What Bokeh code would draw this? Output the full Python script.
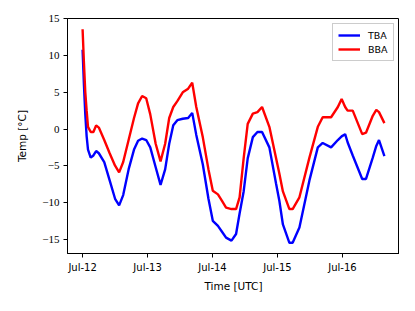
import datetime as dt
from bokeh.plotting import figure
from bokeh.models import Range1d, FixedTicker, DatetimeTickFormatter, Legend, LegendItem
from bokeh.embed import file_html
from bokeh.resources import INLINE

# ---- data (hours since Jul-12 00:00 UTC) ----
hours = [0, 0.5, 1, 1.5, 2, 3, 4, 5, 6, 8, 10, 12, 13.5, 15, 17, 19, 20.5, 22, 23.5,
         25, 27, 28.8, 30.5, 32, 33.5, 35, 37, 39, 40.5, 42, 44.4, 46.5, 48.1, 50,
         51.5, 53, 55, 56.7, 58, 59.5, 61, 62.9, 64.6, 66.3, 69, 71.5, 72.7, 74,
         76.4, 77.6, 80.1, 83.8, 86.9, 88.7, 91.8, 94.3, 95.7, 97, 97.9, 99.8,
         103.3, 104.7, 107.2, 108.5, 109.5, 111.5]
tba = [10.8, 6.0, 2.0, -1.0, -2.8, -3.9, -3.6, -3.0, -3.3, -4.5, -7.0, -9.5, -10.4,
       -9.0, -5.5, -2.8, -1.6, -1.3, -1.5, -2.5, -5.2, -7.6, -5.5, -2.0, 0.5, 1.2,
       1.4, 1.5, 2.2, -0.8, -4.8, -9.5, -12.5, -13.2, -14.0, -14.8, -15.2, -14.3,
       -11.5, -8.5, -4.0, -1.1, -0.4, -0.4, -2.5, -7.5, -9.8, -13.0, -15.5, -15.5,
       -13.4, -7.0, -2.5, -1.9, -2.5, -1.5, -1.0, -0.7, -1.8, -3.6, -6.8, -6.8,
       -3.9, -2.3, -1.5, -3.7]
bba = [13.6, 9.0, 5.0, 2.5, 0.3, -0.4, -0.4, 0.5, 0.2, -1.5, -3.3, -5.0, -5.9,
       -4.5, -1.5, 1.5, 3.5, 4.5, 4.2, 2.0, -2.0, -4.4, -2.0, 1.5, 3.0, 3.8, 5.0,
       5.5, 6.3, 3.0, -1.1, -5.5, -8.4, -8.9, -9.8, -10.7, -10.9, -10.9, -9.3,
       -4.0, 0.7, 2.1, 2.3, 3.0, 0.3, -4.0, -6.1, -8.5, -10.9, -10.9, -9.3, -3.9,
       0.3, 1.6, 1.6, 3.0, 4.1, 3.0, 2.5, 2.5, -0.7, -0.5, 1.8, 2.6, 2.3, 0.8]
series_names = ["TBA", "BBA"]
series_colors = ["blue", "red"]
y_ticks = [-15, -10, -5, 0, 5, 10, 15]
day_ticks = ["2019-07-12", "2019-07-13", "2019-07-14", "2019-07-15", "2019-07-16"]

start = dt.datetime(2019, 7, 12)
times = [start + dt.timedelta(hours=h) for h in hours]

def ms(d):
    return (d - dt.datetime(1970, 1, 1)).total_seconds() * 1000.0

t0, t1 = ms(times[0]), ms(times[-1])
pad = 0.05 * (t1 - t0)
allv = tba + bba
vmin, vmax = min(allv), max(allv)
vpad = 0.05 * (vmax - vmin)

p = figure(width=399, height=295, x_axis_type="datetime",
           output_backend="svg", toolbar_location=None,
           x_range=Range1d(t0 - pad, t1 + pad),
           y_range=Range1d(vmin - vpad, vmax + vpad),
           min_border_left=67, min_border_right=0, min_border_top=18,
           min_border_bottom=42)
p.background_fill_color = "white"
p.border_fill_color = "white"
p.outline_line_color = "black"
p.outline_line_width = 1
p.xgrid.visible = False
p.ygrid.visible = False

r1 = p.line(times, tba, line_color=series_colors[0], line_width=2.4)
r2 = p.line(times, bba, line_color=series_colors[1], line_width=2.4)

tick_ms = [ms(dt.datetime.strptime(d, "%Y-%m-%d")) for d in day_ticks]
p.xaxis.ticker = FixedTicker(ticks=tick_ms)
p.xaxis.formatter = DatetimeTickFormatter(days="%b-%d", months="%b-%d", hours="%b-%d")
p.yaxis.ticker = FixedTicker(ticks=y_ticks)
p.yaxis.major_label_overrides = {v: (str(v).replace("-", "\u2212")) for v in y_ticks}

for ax in (p.xaxis[0], p.yaxis[0]):
    ax.axis_line_color = "black"
    ax.major_tick_line_color = "black"
    ax.major_tick_out = 4
    ax.major_tick_in = 0
    ax.minor_tick_line_color = None
    ax.major_label_text_color = "black"
    ax.major_label_text_font_size = "10px"
    ax.axis_label_text_font_size = "10.5px"
    ax.axis_label_text_font_style = "normal"
    ax.axis_label_text_font = "DejaVu Sans"
    ax.axis_label_text_color = "black"
    ax.major_label_standoff = 4

p.xaxis.major_label_text_font = "DejaVu Sans"
p.yaxis.major_label_text_font = "Liberation Serif"
p.yaxis.major_label_text_font_size = "11px"
p.xaxis.axis_label = "Time [UTC]"
p.yaxis.axis_label = "Temp [\u00b0C]"
p.xaxis.axis_label_standoff = 4
p.yaxis.axis_label_standoff = 11

legend = Legend(items=[LegendItem(label=series_names[0], renderers=[r1]),
                       LegendItem(label=series_names[1], renderers=[r2])],
                location="top_right")
legend.label_text_font = "DejaVu Sans"
legend.label_text_font_size = "9.5px"
legend.label_text_color = "black"
legend.border_line_color = "#cccccc"
legend.border_line_alpha = 1
legend.background_fill_alpha = 0.8
legend.glyph_width = 22
legend.glyph_height = 12
legend.label_height = 12
legend.spacing = 2
legend.padding = 5
legend.margin = 5
legend.label_standoff = 8
p.add_layout(legend)

open("out.html", "w").write(file_html(p, INLINE))
